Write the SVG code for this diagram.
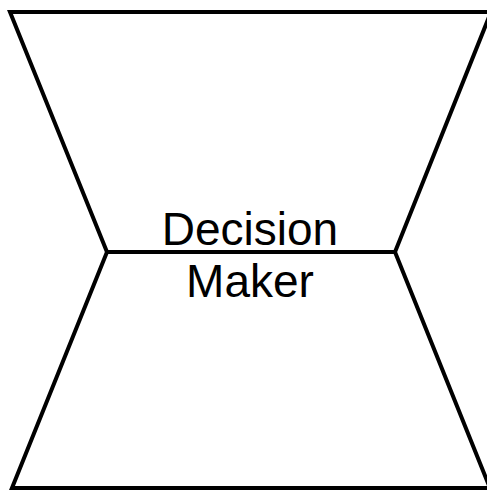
<svg xmlns="http://www.w3.org/2000/svg" width="487" height="490" viewBox="0 0 487 490">
<style>
.shape{fill:#fff;stroke:#000;stroke-width:4;stroke-linejoin:miter}
.lbl{font-family:"Liberation Sans",Arial,sans-serif;font-size:46px;fill:#000;text-anchor:middle}
</style>
<rect width="487" height="490" fill="#fff"/>
<g id="top">
<polygon class="shape" points="10,12 491,12 395,252 107,252"/>
</g>
<g id="bottom">
<polygon class="shape" points="107,252 395,252 490,488 12,488"/>
</g>
<g id="label">
<text class="lbl" x="250" y="245">Decision</text>
<text class="lbl" x="250" y="297">Maker</text>
</g>
<g id="connectors"/>
</svg>
